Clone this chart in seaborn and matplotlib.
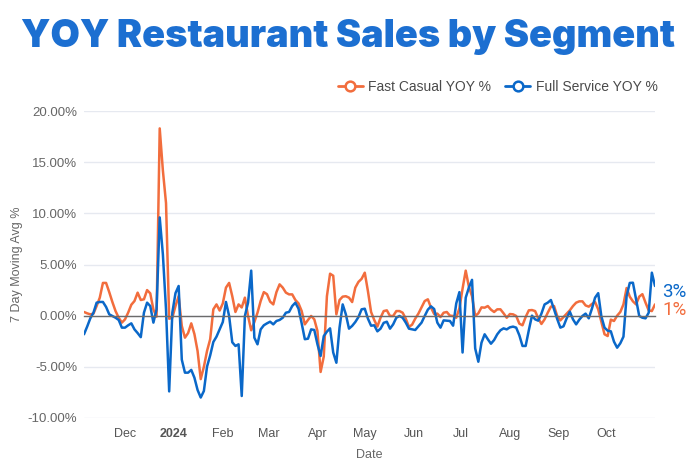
import pandas as pd
import matplotlib
matplotlib.use("Agg")
import matplotlib.pyplot as plt
from matplotlib.lines import Line2D
from matplotlib.ticker import FuncFormatter
import seaborn as sns

# ==================================================
# CONFIG
# ==================================================

OUT_FILE = "out.png"

ORANGE = "#f26d3d"
BLUE = "#0a68c9"
TITLE_BLUE = "#1c6fd1"
GRID = "#e6e9f0"
TEXT = "#666666"

# ==================================================
# DATA (one value every 2 days)
# ==================================================

START_DATE = "2023-11-05"
STEP = "2D"

fast_casual = [
    0.36, 0.23, 0.13, 0.2, 0.94, 1.76, 3.2, 3.2, 2.3, 1.33,
    0.45, -0.2, -0.68, -0.36, 0.3, 1.07, 1.43, 2.25, 1.53, 1.6,
    2.5, 2.18, 0.6, -0.1, 18.3, 14.2, 11.0, -0.3, -0.2, 0.94,
    1.9, -1.0, -2.15, -1.7, -0.75, -1.8, -3.45, -6.2, -5.0, -3.45,
    -2.3, 0.62, 1.1, 0.5, 1.2, 2.74, 3.2, 1.9, 0.36, 1.1,
    0.8, 1.76, -0.03, -1.43, -0.62, 0.29, 1.43, 2.3, 2.1, 1.37,
    1.1, 2.3, 3.06, 2.74, 2.25, 2.08, 2.08, 1.53, 1.2, 0.45,
    -0.85, -0.42, -0.03, -0.36, -1.5, -5.5, -4.0, 1.9, 4.1, 3.9,
    0.13, 1.53, 1.86, 1.9, 1.76, 1.33, 2.74, 3.3, 3.6, 4.2,
    2.4, 0.36, -0.42, -1.07, -0.2, 0.45, 0.52, -0.03, -0.03, 0.45,
    0.45, 0.29, -0.29, -1.1, -0.88, -0.29, 0.2, 0.81, 1.43, 1.6,
    0.78, 0.16, 0.2, -0.13, 0.29, 0.36, 0.0, -0.03, -0.2, 0.72,
    2.64, 4.4, 2.83, 1.9, -0.03, 0.23, 0.81, 0.78, 0.94, 0.59,
    0.36, 0.62, 0.62, 0.23, -0.2, 0.16, 0.13, -0.03, -0.78, -0.94,
    -0.13, 0.52, 0.55, 0.45, -0.26, -0.81, -0.36, 0.29, 0.88, 0.94,
    -0.03, -0.46, -0.13, 0.2, 0.52, 0.94, 1.27, 1.4, 1.4, 1.0,
    0.88, 1.14, 1.33, 0.62, -0.62, -1.82, -1.99, -0.39, -0.52, 0.0,
    0.36, 1.1, 2.7, 1.86, 1.4, 1.1, 1.86, 2.1, 1.27, 0.52,
    0.45, 1.1,
]

full_service = [
    -1.82, -1.07, -0.26, 0.29, 1.27, 1.34, 1.34, 0.85, 0.13, -0.03,
    -0.2, -0.42, -1.17, -1.17, -0.94, -0.75, -1.34, -1.7, -2.1, 0.29,
    1.27, 0.94, -0.68, 0.6, 9.6, 6.0, 0.6, -7.4, 0.3, 2.2,
    2.9, -4.3, -5.57, -5.57, -5.3, -6.06, -7.26, -8.0, -7.36, -4.98,
    -3.88, -2.57, -2.05, -1.34, -0.62, 1.34, -0.03, -2.6, -2.96, -2.8,
    -7.85, -0.03, 1.27, 4.4, -2.15, -2.8, -1.34, -0.94, -0.75, -0.59,
    -0.85, -0.52, -0.42, -0.2, 0.29, 0.36, 0.94, 1.27, 0.68, -0.75,
    -2.3, -2.25, -1.34, -1.4, -2.8, -3.94, -2.0, -1.56, -1.24, -3.6,
    -4.6, -1.17, 1.1, 0.13, -1.27, -1.0, -0.62, -0.13, 0.62, 0.68,
    -0.29, -0.98, -0.94, -1.53, -1.27, -0.7, -0.59, -1.27, -0.85, -0.2,
    -0.03, -0.2, -0.68, -1.27, -1.34, -1.4, -1.04, -0.68, -0.03, 0.59,
    0.91, 0.65, -0.68, -1.17, -0.46, -0.49, -0.52, -0.98, 1.2, 2.3,
    -3.6, 1.76, 2.74, 3.5, -3.2, -4.5, -2.64, -1.82, -2.3, -2.74,
    -2.38, -1.82, -1.43, -1.24, -1.34, -1.14, -1.07, -1.17, -1.92, -2.96,
    -2.96, -1.43, 0.0, -0.36, -0.49, 0.2, 1.1, 1.27, 1.53, 0.62,
    -0.33, -1.17, -1.04, -0.26, 0.39, -0.36, -0.85, -0.39, -0.03, 0.2,
    -0.26, 0.68, 1.76, 2.2, -0.07, -1.17, -1.47, -1.53, -2.54, -3.13,
    -2.7, -2.05, 1.92, 3.2, 3.22, 1.6, -0.03, -0.2, -0.26, 0.29,
    4.2, 2.9,
]

series_names = ["Fast Casual YOY %", "Full Service YOY %"]
series_colors = [ORANGE, BLUE]

month_ticks = [
    "2023-12-01", "2024-01-01", "2024-02-01", "2024-03-01",
    "2024-04-01", "2024-05-01", "2024-06-01", "2024-07-01",
    "2024-08-01", "2024-09-01", "2024-10-01",
]
month_labels = [
    "Dec", "2024", "Feb", "Mar", "Apr", "May",
    "Jun", "Jul", "Aug", "Sep", "Oct",
]

y_ticks = [-10, -5, 0, 5, 10, 15, 20]

# ==================================================
# BUILD TABLE
# ==================================================

def build_frame():

    dates = pd.date_range(
        START_DATE,
        periods=len(fast_casual),
        freq=STEP
    )

    df = pd.DataFrame({
        "Date": dates,
        series_names[0]: fast_casual,
        series_names[1]: full_service,
    })

    return df.melt(
        id_vars="Date",
        var_name="Segment",
        value_name="YOY"
    )

# ==================================================
# PLOT
# ==================================================

def make_plot(long_df):

    sns.set_theme(style="white")
    plt.rcParams["font.family"] = ["Liberation Sans", "DejaVu Sans"]

    fig = plt.figure(figsize=(6.96, 4.66), dpi=100)
    ax = fig.add_axes([84 / 696, 48 / 466, 571 / 696, 307 / 466])

    sns.lineplot(
        data=long_df,
        x="Date",
        y="YOY",
        hue="Segment",
        hue_order=series_names,
        palette=dict(zip(series_names, series_colors)),
        linewidth=1.8,
        legend=False,
        ax=ax
    )

    dates = long_df["Date"].unique()
    ax.set_xlim(dates[0], dates[-1])
    ax.set_ylim(min(y_ticks), max(y_ticks))

    # y axis
    ax.set_yticks(y_ticks)
    ax.yaxis.set_major_formatter(FuncFormatter(lambda v, p: f"{v:.2f}%"))
    ax.tick_params(axis="y", length=0, pad=5, labelsize=9.5, labelcolor=TEXT)
    ax.yaxis.grid(True, color=GRID, linewidth=1)
    ax.xaxis.grid(False)

    # x axis sits on the zero line, labels pushed down to the bottom
    for side in ["top", "right", "left"]:
        ax.spines[side].set_visible(False)
    ax.spines["bottom"].set_position(("data", 0))
    ax.spines["bottom"].set_color("#6b6b6b")
    ax.spines["bottom"].set_linewidth(1)

    ax.set_xticks(pd.to_datetime(month_ticks))
    ax.set_xticklabels(month_labels)
    ax.tick_params(
        axis="x",
        direction="out",
        length=3,
        color="#9a9a9a",
        pad=78,
        labelsize=9,
        labelcolor="#555555"
    )
    ax.get_xticklabels()[1].set_fontweight("bold")

    ax.set_xlabel("Date", fontsize=9, color=TEXT, va="center")
    ax.xaxis.set_label_coords(0.5, -0.12)
    ax.set_ylabel("7 Day Moving Avg %", fontsize=9, color=TEXT, va="center")
    ax.yaxis.set_label_coords(-0.117, 0.5)

    # end of line labels
    for name, color in zip(series_names, series_colors):
        last = long_df[long_df["Segment"] == name].iloc[-1]
        ax.annotate(
            f"{round(last['YOY'])}%",
            xy=(last["Date"], last["YOY"]),
            xytext=(5, -4),
            textcoords="offset points",
            color=color,
            fontsize=13.5,
            family=["Roboto", "DejaVu Sans"],
            va="center",
            ha="left",
            annotation_clip=False
        )

    # legend
    handles = [
        Line2D(
            [0], [0],
            color=c,
            linewidth=2,
            marker="o",
            markersize=7,
            markerfacecolor="white",
            markeredgewidth=1.8,
            markeredgecolor=c
        )
        for c in series_colors
    ]
    fig.legend(
        handles,
        series_names,
        loc="center right",
        bbox_to_anchor=(670 / 696, 1 - 87 / 466),
        ncol=2,
        frameon=False,
        fontsize=10,
        labelcolor="#4a4a4a",
        handlelength=1.8,
        handletextpad=0.4,
        columnspacing=1.0
    )

    # title
    fig.text(
        0.5,
        1 - 37 / 466,
        "YOY Restaurant Sales by Segment",
        ha="center",
        va="center",
        fontsize=27.3,
        fontweight="black",
        family=["Inter", "DejaVu Sans"],
        color=TITLE_BLUE
    )

    fig.savefig(OUT_FILE, dpi=100)
    plt.close(fig)

# ==================================================
# MAIN
# ==================================================

def main():

    long_df = build_frame()

    make_plot(long_df)


if __name__ == "__main__":

    main()
